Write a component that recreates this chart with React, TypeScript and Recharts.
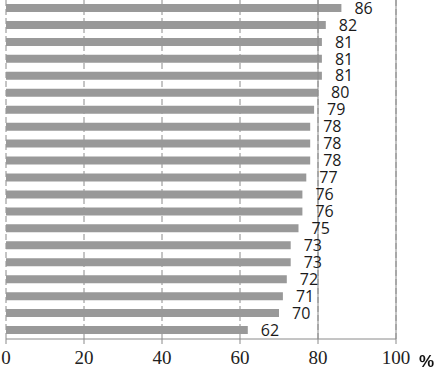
import React from "react";
import {
  BarChart,
  Bar,
  XAxis,
  YAxis,
  CartesianGrid,
  ReferenceLine,
  LabelList,
} from "recharts";

// categories have no visible names, so we just number them
const items = ["1", "2", "3", "4", "5", "6", "7", "8", "9", "10", "11", "12", "13", "14", "15", "16", "17", "18", "19", "20"];
const percents = [86, 82, 81, 81, 81, 80, 79, 78, 78, 78, 77, 76, 76, 75, 73, 73, 72, 71, 70, 62];
const xTicks = [0, 20, 40, 60, 80, 100];
const edgeTicks = Array.from({ length: items.length + 1 }, (_, i) => i);

const data = items.map((name, i) => ({ name, value: percents[i] }));

// serif tick labels under the x axis
const SerifTick = (props: any) => {
  const { x, y, payload } = props;
  return (
    <text
      x={x}
      y={y + 18}
      textAnchor="middle"
      fill="#222"
      fontSize={19}
      fontFamily="'Times New Roman', 'Liberation Serif', 'DejaVu Serif', serif"
    >
      {payload.value}
    </text>
  );
};

export default function App() {
  return (
    <div style={{ position: "fixed", left: 0, top: 0, width: 436, height: 370, background: "#fff" }}>
      <BarChart
        width={436}
        height={370}
        data={data}
        layout="vertical"
        margin={{ top: 0, right: 40, bottom: 0, left: 6 }}
      >
        <CartesianGrid horizontal={false} stroke="#8a8a8a" strokeDasharray="6 3" />
        <XAxis
          type="number"
          domain={[0, 100]}
          ticks={xTicks}
          height={31}
          tickSize={5}
          tickMargin={2}
          stroke="#8a8a8a"
          tick={<SerifTick />}
        />
        <YAxis type="category" dataKey="name" hide />
        {/* tick marks between categories, drawn from a numeric axis */}
        <YAxis
          yAxisId="edges"
          type="number"
          domain={[0, items.length]}
          ticks={edgeTicks}
          width={0}
          tickSize={6}
          tickFormatter={() => ""}
          stroke="#8a8a8a"
          allowDataOverflow
        />
        <ReferenceLine x={80} stroke="#8a8a8a" />
        <ReferenceLine x={100} stroke="#8a8a8a" />
        <Bar dataKey="value" fill="#999999" barSize={8} isAnimationActive={false}>
          <LabelList
            dataKey="value"
            position="right"
            offset={13}
            fill="#1a1a1a"
            style={{ fontSize: 16, fontFamily: "'Open Sans', sans-serif" }}
          />
        </Bar>
      </BarChart>
      <div
        style={{
          position: "absolute",
          left: 419,
          top: 352,
          fontFamily: "'Liberation Sans', sans-serif",
          fontWeight: "bold",
          fontSize: 17,
          color: "#111",
        }}
      >
        %
      </div>
    </div>
  );
}
